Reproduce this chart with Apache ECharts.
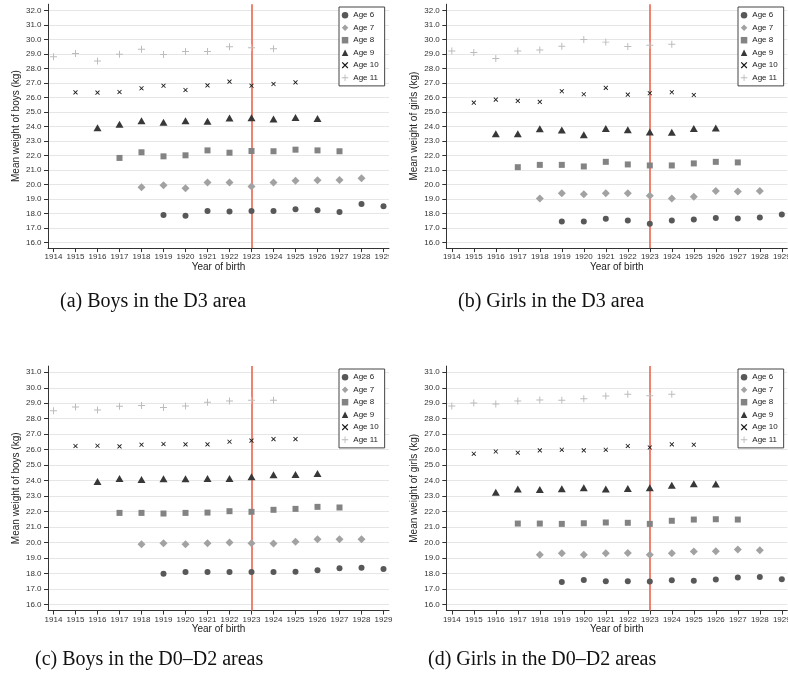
<!DOCTYPE html>
<html>
<head>
<meta charset="utf-8">
<script src="https://cdn.jsdelivr.net/npm/echarts@6/dist/echarts.min.js"></script>
<style>
html,body{margin:0;padding:0;background:#fff;}
#chart{width:788px;height:688px;}
</style>
</head>
<body>
<div id="chart"></div>
<script>
// ---------------- DATA ----------------
const years = [1914,1915,1916,1917,1918,1919,1920,1921,1922,1923,1924,1925,1926,1927,1928,1929];
const ageNames = ['Age 6','Age 7','Age 8','Age 9','Age 10','Age 11'];
// first year of birth observed for each age group (each has 11 cohorts)
const ageFirstYear = [1919,1918,1917,1916,1915,1914];
const cutoffYear = 1923;
const yTicksTop = [16,17,18,19,20,21,22,23,24,25,26,27,28,29,30,31,32];
const yTicksBottom = [16,17,18,19,20,21,22,23,24,25,26,27,28,29,30,31];

// (a) Boys in the D3 area
const boysD3_age6  = [17.89,17.84,18.16,18.12,18.16,18.16,18.28,18.21,18.10,18.65,18.49];
const boysD3_age7  = [19.80,19.94,19.73,20.14,20.14,19.85,20.14,20.26,20.28,20.31,20.42];
const boysD3_age8  = [21.83,22.22,21.94,22.01,22.35,22.19,22.31,22.29,22.40,22.35,22.29];
const boysD3_age9  = [23.92,24.15,24.40,24.29,24.40,24.36,24.59,24.61,24.52,24.63,24.56];
const boysD3_age10 = [26.36,26.34,26.38,26.64,26.82,26.52,26.84,27.10,26.82,26.94,27.05];
const boysD3_age11 = [28.82,29.05,28.52,29.00,29.33,28.98,29.19,29.19,29.51,29.44,29.38];

// (b) Girls in the D3 area
const girlsD3_age6  = [17.43,17.43,17.62,17.50,17.29,17.50,17.57,17.68,17.64,17.71,17.92];
const girlsD3_age7  = [19.02,19.39,19.32,19.39,19.39,19.21,19.02,19.14,19.55,19.51,19.55];
const girlsD3_age8  = [21.19,21.35,21.35,21.24,21.56,21.38,21.31,21.31,21.45,21.56,21.52];
const girlsD3_age9  = [23.50,23.50,23.85,23.76,23.43,23.87,23.78,23.62,23.60,23.87,23.90];
const girlsD3_age10 = [25.65,25.86,25.77,25.70,26.44,26.23,26.67,26.20,26.30,26.37,26.18];
const girlsD3_age11 = [29.21,29.11,28.70,29.21,29.28,29.55,30.01,29.83,29.53,29.62,29.69];

// (c) Boys in the D0-D2 areas
const boysD02_age6  = [17.98,18.09,18.09,18.09,18.09,18.09,18.11,18.20,18.33,18.37,18.29];
const boysD02_age7  = [19.88,19.95,19.88,19.95,19.99,19.95,19.93,20.04,20.21,20.21,20.21];
const boysD02_age8  = [21.91,21.91,21.87,21.91,21.93,22.02,21.98,22.11,22.17,22.30,22.26];
const boysD02_age9  = [23.94,24.14,24.07,24.11,24.11,24.14,24.14,24.24,24.37,24.40,24.46];
const boysD02_age10 = [26.23,26.25,26.21,26.32,26.36,26.34,26.34,26.51,26.58,26.68,26.68];
const boysD02_age11 = [28.52,28.76,28.56,28.80,28.86,28.73,28.82,29.06,29.14,29.19,29.19];

// (d) Girls in the D0-D2 areas
const girlsD02_age6  = [17.45,17.57,17.49,17.49,17.47,17.55,17.53,17.60,17.73,17.77,17.62];
const girlsD02_age7  = [19.21,19.30,19.21,19.30,19.32,19.21,19.30,19.41,19.43,19.54,19.50];
const girlsD02_age8  = [21.22,21.22,21.20,21.24,21.29,21.27,21.20,21.40,21.48,21.50,21.48];
const girlsD02_age9  = [23.25,23.45,23.42,23.47,23.53,23.45,23.49,23.53,23.70,23.79,23.77];
const girlsD02_age10 = [25.73,25.88,25.80,25.95,25.99,25.95,25.99,26.23,26.14,26.34,26.32];
const girlsD02_age11 = [28.82,29.01,28.95,29.14,29.21,29.19,29.29,29.47,29.58,29.49,29.58];

const captions = ['(a) Boys in the D3 area','(b) Girls in the D3 area','(c) Boys in the D0\u2013D2 areas','(d) Girls in the D0\u2013D2 areas'];
const yTitles = ['Mean weight of boys (kg)','Mean weight of girls (kg)','Mean weight of boys (kg)','Mean weight of girls (kg)'];
const xTitle = 'Year of birth';

// ---------------- STYLE ----------------
const FONT = 'Liberation Sans, Arial, Helvetica, sans-serif';
const crossPath = 'path://M0,1.3 L1.3,0 L5,3.7 L8.7,0 L10,1.3 L6.3,5 L10,8.7 L8.7,10 L5,6.3 L1.3,10 L0,8.7 L3.7,5 Z';
const plusPath = 'path://M4.3,0 H5.7 V4.3 H10 V5.7 H5.7 V10 H4.3 V5.7 H0 V4.3 H4.3 Z';
const markerStyles = [
  {symbol:'circle',   size:6,     color:'#585858'},
  {symbol:'diamond',  size:[8,8], color:'#a2a2a2'},
  {symbol:'rect',     size:6,     color:'#838383'},
  {symbol:'triangle', size:[8,7], color:'#383838'},
  {symbol:crossPath,  size:4.6,   color:'#1a1a1a'},
  {symbol:plusPath,   size:7,     color:'#bcbcbc'}
];

const panels = [
  {series:[boysD3_age6,boysD3_age7,boysD3_age8,boysD3_age9,boysD3_age10,boysD3_age11], left:48,  top:4.2,   height:243.9, ymin:15.6, ymax:32.45, ticks:yTicksTop,    legendLeft:339, legendTop:7},
  {series:[girlsD3_age6,girlsD3_age7,girlsD3_age8,girlsD3_age9,girlsD3_age10,girlsD3_age11], left:446.3, top:4.2, height:243.9, ymin:15.6, ymax:32.45, ticks:yTicksTop, legendLeft:738, legendTop:7},
  {series:[boysD02_age6,boysD02_age7,boysD02_age8,boysD02_age9,boysD02_age10,boysD02_age11], left:48, top:366.1, height:244.4, ymin:15.6, ymax:31.4, ticks:yTicksBottom, legendLeft:339, legendTop:369},
  {series:[girlsD02_age6,girlsD02_age7,girlsD02_age8,girlsD02_age9,girlsD02_age10,girlsD02_age11], left:446.3, top:366.1, height:244.4, ymin:15.6, ymax:31.4, ticks:yTicksBottom, legendLeft:738, legendTop:369}
];

const grids = [], xAxes = [], yAxes = [], series = [], legends = [];
panels.forEach((p, pi) => {
  grids.push({left:p.left, top:p.top, width:341, height:p.height, outerBoundsMode:'none', containLabel:false});
  xAxes.push({
    type:'value', gridIndex:pi, min:1913.75, max:1929.25,
    name:xTitle, nameLocation:'middle', nameGap:14,
    nameTextStyle:{fontFamily:FONT, fontSize:10, color:'#222', verticalAlign:'top'},
    axisLine:{show:true, onZero:false, lineStyle:{color:'#333', width:1}},
    axisTick:{show:true, length:4, customValues:years, lineStyle:{color:'#333'}},
    axisLabel:{customValues:years, fontFamily:FONT, fontSize:8, color:'#333', margin:5,
      formatter:v => String(Math.round(v)), hideOverlap:false, showMinLabel:true, showMaxLabel:true},
    splitLine:{show:false}
  });
  yAxes.push({
    type:'value', gridIndex:pi, min:p.ymin, max:p.ymax,
    name:yTitles[pi], nameLocation:'middle', nameGap:27,
    nameTextStyle:{fontFamily:FONT, fontSize:10, color:'#222'},
    axisLine:{show:true, onZero:false, lineStyle:{color:'#333', width:1}},
    axisTick:{show:true, length:4, customValues:p.ticks, lineStyle:{color:'#333'}},
    axisLabel:{customValues:p.ticks, fontFamily:FONT, fontSize:8, color:'#333', margin:6.5,
      formatter:v => Number(v).toFixed(1)},
    splitLine:{show:true, lineStyle:{color:'#e6e6e6', width:1}}
  });
  p.series.forEach((vals, ai) => {
    const first = ageFirstYear[ai];
    const st = markerStyles[ai];
    const s = {
      type:'scatter', name:ageNames[ai], xAxisIndex:pi, yAxisIndex:pi,
      symbol:st.symbol, symbolSize:st.size,
      itemStyle:{color:st.color, opacity:1},
      data: vals.map((v, k) => [years[years.indexOf(first) + k], v]),
      z:3, silent:true
    };
    if (ai === 0) {
      s.markLine = {
        silent:true, symbol:['none','none'], label:{show:false}, z:2,
        lineStyle:{color:'#ee7563', width:1.8, type:'solid'},
        emphasis:{disabled:true},
        data:[{xAxis:cutoffYear}]
      };
    }
    series.push(s);
  });
  legends.push({
    left:p.legendLeft, top:p.legendTop, orient:'vertical',
    data:ageNames.map(n => ({name:n})),
    itemWidth:6.5, itemHeight:6.5, itemGap:4.5, itemTextGap:5,
    padding:[4.2,6,4.2,2.8],
    backgroundColor:'#fff', borderColor:'#444', borderWidth:1, borderRadius:0,
    textStyle:{fontFamily:FONT, fontSize:8, color:'#222', lineHeight:8},
    selectedMode:false
  });
});

const captionPos = [
  {x:60,  y:302},
  {x:458, y:302},
  {x:35,  y:660},
  {x:428, y:660}
];
const graphics = [
  // the right-hand edge of panel (a) is cropped in the reference
  {type:'rect', left:389, top:249, shape:{width:5, height:20}, style:{fill:'#fff'}, z:100}
];
captions.forEach((c, i) => {
  graphics.push({type:'text', x:captionPos[i].x, y:captionPos[i].y,
    style:{text:c, font:'20px "Liberation Serif", "DejaVu Serif", serif', fill:'#111', textVerticalAlign:'middle', textAlign:'left'}, z:100});
});

const chart = echarts.init(document.getElementById('chart'), null, {renderer:'canvas'});
chart.setOption({
  animation:false,
  backgroundColor:'#fff',
  grid:grids, xAxis:xAxes, yAxis:yAxes, series:series, legend:legends,
  graphic:graphics
});
</script>
</body>
</html>
